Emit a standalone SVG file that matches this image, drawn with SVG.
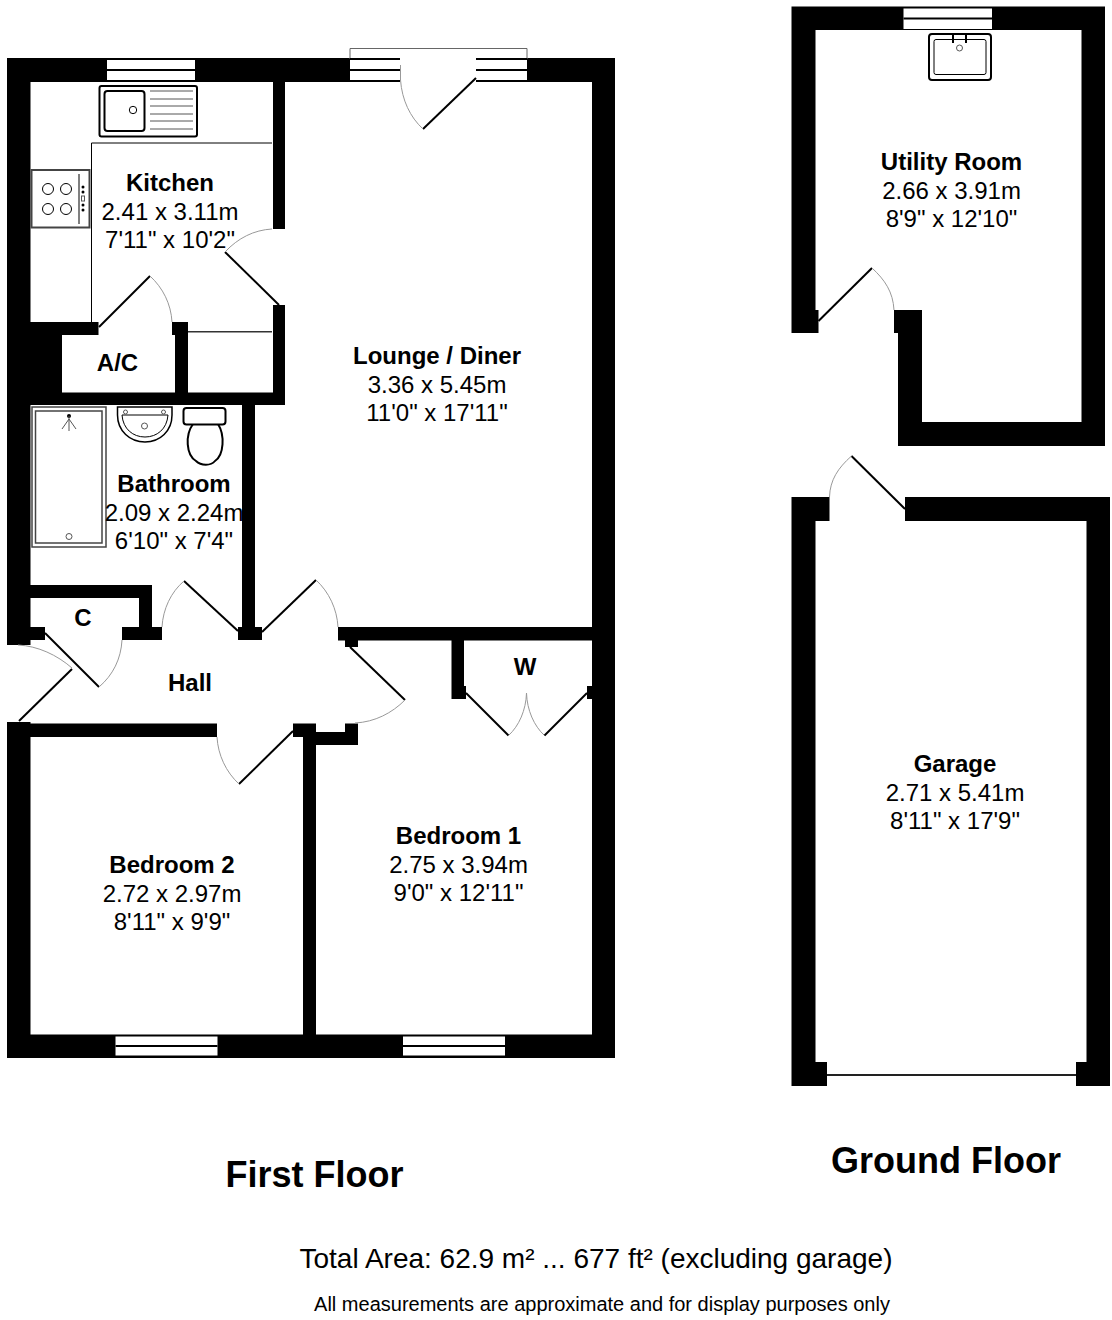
<svg xmlns="http://www.w3.org/2000/svg" width="1112" height="1320" viewBox="0 0 1112 1320">
<style>
text{font-family:"Liberation Sans",Arial,sans-serif;fill:#000;text-anchor:middle;font-size:24px}
.b{font-weight:bold}
.wall{fill:#000}
.win{fill:#fff}
.door{fill:none;stroke:#000;stroke-width:2}
.arc{fill:none;stroke:#999;stroke-width:1}
.fx{fill:#fff;stroke:#000;stroke-width:2}
.thin{fill:none;stroke:#000;stroke-width:1}
.lite{fill:none;stroke:#555;stroke-width:1}
.mid{fill:none;stroke:#222;stroke-width:2}
.gr{fill:#fff;stroke:#444;stroke-width:1.5}
</style>
<rect width="1112" height="1320" fill="#fff"/>
<g id="first-floor-walls" class="wall">
<rect x="7" y="58" width="343" height="24"/>
<rect x="527" y="58" width="88" height="24"/>
<rect x="7" y="58" width="23.500" height="587"/>
<rect x="592" y="58" width="23" height="1000"/>
<rect x="273" y="82" width="12" height="147"/>
<rect x="273" y="305" width="12" height="100"/>
<rect x="30" y="322" width="68.500" height="13"/>
<rect x="30" y="322" width="32" height="83"/>
<rect x="172" y="322" width="16" height="13"/>
<rect x="175" y="322" width="13" height="83"/>
<rect x="30" y="392.500" width="255" height="12.500"/>
<rect x="242" y="405" width="13" height="225"/>
<rect x="238" y="627" width="24" height="13"/>
<rect x="30" y="585" width="122" height="13"/>
<rect x="139" y="585" width="13" height="45"/>
<rect x="122" y="627" width="40" height="13"/>
<rect x="30" y="627" width="15" height="13"/>
<rect x="338" y="627" width="254" height="13.500"/>
<rect x="345" y="640" width="13" height="7"/>
<rect x="451.500" y="640" width="12.500" height="59"/>
<rect x="464" y="686" width="2" height="13"/>
<rect x="587" y="686" width="5" height="13"/>
<rect x="7" y="722" width="23.500" height="336"/>
<rect x="7" y="723.500" width="210" height="13.500"/>
<rect x="293" y="723.500" width="23" height="13.500"/>
<rect x="303" y="730" width="13" height="305"/>
<rect x="303" y="732" width="55" height="13"/>
<rect x="345" y="723.500" width="13" height="21.500"/>
<rect x="7" y="1034.500" width="608" height="23.500"/>
</g>
<g id="first-floor-windows">
<rect class="win" x="107" y="60" width="88" height="20"/>
<rect class="wall" x="107" y="69" width="88" height="2"/>
<rect class="win" x="115.500" y="1036.500" width="102" height="19"/>
<rect class="wall" x="115.500" y="1045" width="102" height="2"/>
<rect class="win" x="403" y="1036.500" width="102" height="19"/>
<rect class="wall" x="403" y="1045" width="102" height="2"/>
<rect class="win" x="350" y="48.500" width="177" height="33"/>
<path class="arc" d="M350 48.500H527M350 48.500V59M527 48.500V59" style="stroke:#666"/>
<path class="door" d="M350 59H400M350 70H400M350 81H400M476 59H527M476 70H527M476 81H527"/>
</g>
<g id="first-floor-partitions">
<path class="thin" d="M91.500 322V143H272"/>
<path class="mid" d="M188 331.700H272" style="stroke-width:1.500;stroke:#333"/>
</g>
<g id="connectors">
<path class="door" d="M476 78L423 129"/>
<path class="arc" d="M400.500 65V80C402 100 410 117 423 129"/>
<path class="door" d="M279 305L225 252"/>
<path class="arc" d="M225 252C238 238 254 230 272 229"/>
<path class="door" d="M99 327L150 276"/>
<path class="arc" d="M150 276C163 288 171 304 172 322"/>
<path class="door" d="M45 633L99 687"/>
<path class="arc" d="M99 687C113 675 121 659 122 640"/>
<path class="door" d="M72 669L19 721"/>
<path class="arc" d="M18 645C38 646 57 655 72 668"/>
<path class="door" d="M238 631L184 581"/>
<path class="arc" d="M184 581C171 592 163 609 162 627"/>
<path class="door" d="M262 632L316 580"/>
<path class="arc" d="M316 580C329 592 337 609 338 627"/>
<path class="door" d="M350 647L405 700"/>
<path class="arc" d="M405 700C392 713 375 722 355 723"/>
<path class="door" d="M293 731L239 784"/>
<path class="arc" d="M239 784C226 772 218 755 217 737"/>
<path class="door" d="M466 693L508.500 735.500"/>
<path class="arc" d="M508.500 735.500C519 726 526 710 526.500 693C527 710 534 726 544.500 735.500"/>
<path class="door" d="M587 693L544.500 735.500"/>
<path class="door" d="M818.500 321L872 268"/>
<path class="arc" d="M872 268C885 280 893 292 894 310"/>
<path class="door" d="M905 509L851.500 456"/>
<path class="arc" d="M851.500 456C838 468 830 480 829.500 497"/>
<path class="mid" d="M827 1075H1076"/>
</g>
<g id="kitchen-sink">
<rect class="fx" x="99.500" y="86" width="97.500" height="50.500" rx="2"/>
<rect class="fx" x="104.500" y="91" width="40" height="40" rx="3"/>
<circle class="thin" cx="133" cy="110" r="3.700"/>
<path class="lite" d="M150 91H193M150 99H193M150 106H193M150 114H193M150 121H193M150 129H193"/>
</g>
<g id="kitchen-hob">
<rect class="gr" x="31.500" y="170" width="58" height="57.500" style="stroke-width:2"/>
<circle class="thin" cx="48" cy="189" r="5.500"/><circle class="thin" cx="66" cy="189" r="5.500"/>
<circle class="thin" cx="48" cy="209" r="5.500"/><circle class="thin" cx="66" cy="209" r="5.500"/>
<path class="thin" d="M79 174V224"/>
<circle cx="83" cy="187" r="1.500"/><circle cx="83" cy="192" r="1.500"/>
<rect class="lite" x="81.500" y="196" width="3" height="5"/>
<circle cx="83" cy="205" r="1.500"/><circle cx="83" cy="210" r="1.500"/>
</g>
<g id="bath">
<rect class="gr" x="32" y="407" width="74" height="140"/>
<rect class="gr" x="35.500" y="411" width="66.500" height="132"/>
<circle cx="69" cy="416" r="2"/>
<path class="lite" d="M69 416V431M69 419L62 429M69 419L76 429"/>
<circle class="lite" cx="69" cy="536.500" r="3"/>
</g>
<g id="basin">
<path class="fx" d="M117.500 407H172V415C172 431 160 442 145 442C130 442 117.500 431 117.500 415Z" style="stroke-width:1.500"/>
<path class="thin" d="M122 415H168C167 429 157 437 145 437C133 437 123 429 122 415Z"/>
<circle class="lite" cx="125.500" cy="412" r="2"/><circle class="lite" cx="163.500" cy="412" r="2"/>
<circle class="lite" cx="144.500" cy="426" r="3"/>
</g>
<g id="toilet">
<path class="fx" d="M193 424C185 435 186 455 196 461C201 466 211 466 215 461C224 455 225 435 218 424Z"/>
<rect class="fx" x="183.500" y="408" width="42" height="16.500" rx="3"/>
</g>
<g id="utility-walls" class="wall">
<path d="M791.500 6.500H1105V446H898V333H894V310H922V422H1081.500V30H815.500V310H818.500V333H791.500Z"/>
</g>
<g id="utility-window">
<rect class="win" x="903.500" y="8.500" width="88.500" height="20.500"/>
<rect class="wall" x="903.500" y="17.500" width="88.500" height="2"/>
</g>
<g id="utility-sink">
<rect class="fx" x="929" y="34" width="62" height="46" rx="3"/>
<rect class="thin" x="934" y="39.500" width="52" height="35" rx="2"/>
<path class="fx" d="M953 34V43M966 34V43"/>
<circle class="lite" cx="959.500" cy="48" r="3"/>
</g>
<g id="garage-walls" class="wall">
<path d="M791.500 497H829.500V521H815.500V1062H827V1086H791.500Z"/>
<path d="M905 497H1110V1086H1076V1062H1086.500V521H905Z"/>
</g>
<g id="room-kitchen"><text class="b" x="170" y="191">Kitchen</text><text x="170" y="220">2.41 x 3.11m</text><text x="170" y="248">7'11" x 10'2"</text></g>
<g id="room-lounge"><text class="b" x="437" y="364">Lounge / Diner</text><text x="437" y="393">3.36 x 5.45m</text><text x="437" y="421">11'0" x 17'11"</text></g>
<g id="room-ac"><text class="b" x="117.500" y="371">A/C</text></g>
<g id="room-bathroom"><text class="b" x="174" y="492">Bathroom</text><text x="174" y="521">2.09 x 2.24m</text><text x="174" y="549">6'10" x 7'4"</text></g>
<g id="room-c"><text class="b" x="83" y="626">C</text></g>
<g id="room-hall"><text class="b" x="190" y="691">Hall</text></g>
<g id="room-w"><text class="b" x="525" y="675">W</text></g>
<g id="room-bedroom1"><text class="b" x="458.500" y="844">Bedroom 1</text><text x="458.500" y="873">2.75 x 3.94m</text><text x="458.500" y="901">9'0" x 12'11"</text></g>
<g id="room-bedroom2"><text class="b" x="172" y="873">Bedroom 2</text><text x="172" y="902">2.72 x 2.97m</text><text x="172" y="930">8'11" x 9'9"</text></g>
<g id="room-utility"><text class="b" x="951.500" y="170">Utility Room</text><text x="951.500" y="199">2.66 x 3.91m</text><text x="951.500" y="227">8'9" x 12'10"</text></g>
<g id="room-garage"><text class="b" x="955" y="772">Garage</text><text x="955" y="801">2.71 x 5.41m</text><text x="955" y="829">8'11" x 17'9"</text></g>
<g id="titles">
<text class="b" x="314.500" y="1187" style="font-size:36px">First Floor</text>
<text class="b" x="946" y="1173" style="font-size:36px">Ground Floor</text>
<text x="596" y="1268" style="font-size:28px">Total Area: 62.9 m² ... 677 ft² (excluding garage)</text>
<text x="602" y="1311" style="font-size:20px">All measurements are approximate and for display purposes only</text>
</g>
</svg>
